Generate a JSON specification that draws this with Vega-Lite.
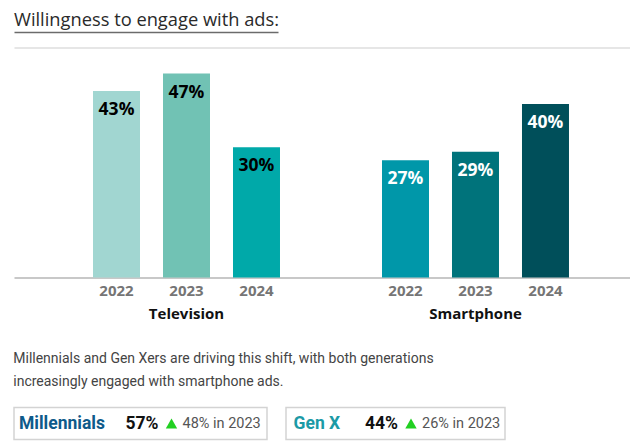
{
  "$schema": "https://vega.github.io/schema/vega-lite/v6.json",
  "padding": {"left": 13, "top": 11, "right": 0, "bottom": 0},
  "background": "white",
  "config": {
    "font": "Open Sans",
    "view": {"stroke": null}
  },
  "datasets": {
    "heading": [
      {"text": "Willingness to engage with ads:"}
    ],
    "engagement": [
      {"device": "Television", "year": "2022", "share": 43},
      {"device": "Television", "year": "2023", "share": 47},
      {"device": "Television", "year": "2024", "share": 30},
      {"device": "Smartphone", "year": "2022", "share": 27},
      {"device": "Smartphone", "year": "2023", "share": 29},
      {"device": "Smartphone", "year": "2024", "share": 40}
    ],
    "generations": [
      {"group": "Millennials", "share": 57, "prior": 48, "prior_year": "2023"},
      {"group": "Gen X", "share": 44, "prior": 26, "prior_year": "2023"}
    ]
  },
  "spacing": 29.5,
  "vconcat": [
    {
      "spacing": 15.5,
      "vconcat": [
        {
          "width": 264,
          "height": 19,
          "data": {"name": "heading"},
          "mark": {"type": "text", "align": "left", "baseline": "alphabetic", "dy": 3.5, "fontSize": 18.3, "color": "#2a2a2a"},
          "encoding": {
            "x": {
              "datum": 0,
              "type": "quantitative",
              "scale": {"domain": [0, 1]},
              "axis": {"title": null, "labels": false, "ticks": false, "grid": false, "domainColor": "#6b6b6b", "domainWidth": 1.5}
            },
            "text": {"field": "text", "type": "nominal"}
          }
        },
        {
          "width": 617,
          "height": 230,
          "data": {"name": "engagement"},
          "transform": [
            {"calculate": "datum.device + ' ' + datum.year", "as": "series"},
            {"calculate": "datum.share + '%'", "as": "label"}
          ],
          "encoding": {
            "x": {
              "field": "device",
              "type": "nominal",
              "sort": ["Television", "Smartphone"],
              "scale": {"paddingInner": 0.2734, "paddingOuter": 0.2042, "align": 0.572},
              "axis": {
                "title": null,
                "domainColor": "#c8c8c8",
                "domainWidth": 2,
                "ticks": false,
                "tickSize": 0,
                "labelPadding": 29,
                "labelAngle": 0,
                "labelFontSize": 15,
                "labelFontWeight": "bold",
                "labelColor": "#111111"
              }
            },
            "xOffset": {
              "field": "year",
              "type": "nominal",
              "scale": {"paddingInner": 0.3286, "paddingOuter": 0.1643}
            }
          },
          "layer": [
            {
              "mark": {"type": "bar"},
              "encoding": {
                "y": {
                  "field": "share",
                  "type": "quantitative",
                  "scale": {"domain": [0, 53], "nice": false},
                  "axis": {
                    "title": null,
                    "labels": false,
                    "domain": false,
                    "ticks": false,
                    "values": [53],
                    "grid": true,
                    "gridColor": "#e6e6e6",
                    "gridWidth": 2
                  }
                },
                "color": {
                  "field": "series",
                  "type": "nominal",
                  "scale": {
                    "domain": ["Television 2022", "Television 2023", "Television 2024", "Smartphone 2022", "Smartphone 2023", "Smartphone 2024"],
                    "range": ["#a1d6d1", "#71c2b4", "#00a9a9", "#0097a9", "#00737b", "#004f5a"]
                  },
                  "legend": null
                }
              }
            },
            {
              "mark": {"type": "text", "baseline": "middle", "dy": 19, "fontSize": 17.5, "fontWeight": "bold"},
              "encoding": {
                "y": {"field": "share", "type": "quantitative"},
                "text": {"field": "label", "type": "nominal"},
                "color": {
                  "condition": {"test": "datum.device === 'Smartphone'", "value": "#ffffff"},
                  "value": "#000000"
                }
              }
            },
            {
              "mark": {"type": "text", "baseline": "top", "dy": 6, "fontSize": 15, "fontWeight": "bold", "color": "#757575"},
              "encoding": {
                "y": {"datum": 0, "type": "quantitative"},
                "text": {"field": "year", "type": "nominal"}
              }
            }
          ]
        }
      ]
    },
    {
      "title": {
        "text": ["Millennials and Gen Xers are driving this shift, with both generations", "increasingly engaged with smartphone ads."],
        "anchor": "start",
        "frame": "bounds",
        "offset": 18,
        "font": "Roboto",
        "fontSize": 14,
        "fontWeight": "normal",
        "lineHeight": 23,
        "color": "#444444"
      },
      "data": {"name": "generations"},
      "transform": [
        {"calculate": "datum.share + '%'", "as": "share_label"},
        {"calculate": "datum.prior + '% in ' + datum.prior_year", "as": "prior_label"}
      ],
      "spacing": 17,
      "hconcat": [
        {
          "width": 253,
          "height": 32,
          "view": {"stroke": "#d3d3d3", "strokeWidth": 1.5},
          "transform": [{"filter": "datum.group === 'Millennials'"}],
          "layer": [
            {
              "mark": {"type": "text", "align": "left", "baseline": "middle", "dx": -121.5, "font": "Roboto", "fontSize": 17.5, "fontWeight": "bold", "color": "#0e5a8a"},
              "encoding": {"text": {"field": "group", "type": "nominal"}}
            },
            {
              "mark": {"type": "text", "align": "left", "baseline": "middle", "dx": -15, "font": "Roboto", "fontSize": 17.5, "fontWeight": "bold", "color": "#111111"},
              "encoding": {"text": {"field": "share_label", "type": "nominal"}}
            },
            {
              "mark": {"type": "point", "shape": "triangle-up", "filled": true, "size": 130, "opacity": 1, "color": "#22d022", "xOffset": 31},
              "encoding": {}
            },
            {
              "mark": {"type": "text", "align": "left", "baseline": "middle", "dx": 42, "font": "Roboto", "fontSize": 14.5, "color": "#555555"},
              "encoding": {"text": {"field": "prior_label", "type": "nominal"}}
            }
          ]
        },
        {
          "width": 219,
          "height": 32,
          "view": {"stroke": "#d3d3d3", "strokeWidth": 1.5},
          "transform": [{"filter": "datum.group === 'Gen X'"}],
          "layer": [
            {
              "mark": {"type": "text", "align": "left", "baseline": "middle", "dx": -102, "font": "Roboto", "fontSize": 17.5, "fontWeight": "bold", "color": "#1b9aa6"},
              "encoding": {"text": {"field": "group", "type": "nominal"}}
            },
            {
              "mark": {"type": "text", "align": "left", "baseline": "middle", "dx": -30.5, "font": "Roboto", "fontSize": 17.5, "fontWeight": "bold", "color": "#111111"},
              "encoding": {"text": {"field": "share_label", "type": "nominal"}}
            },
            {
              "mark": {"type": "point", "shape": "triangle-up", "filled": true, "size": 130, "opacity": 1, "color": "#22d022", "xOffset": 15.5},
              "encoding": {}
            },
            {
              "mark": {"type": "text", "align": "left", "baseline": "middle", "dx": 26.5, "font": "Roboto", "fontSize": 14.5, "color": "#555555"},
              "encoding": {"text": {"field": "prior_label", "type": "nominal"}}
            }
          ]
        }
      ]
    }
  ]
}
